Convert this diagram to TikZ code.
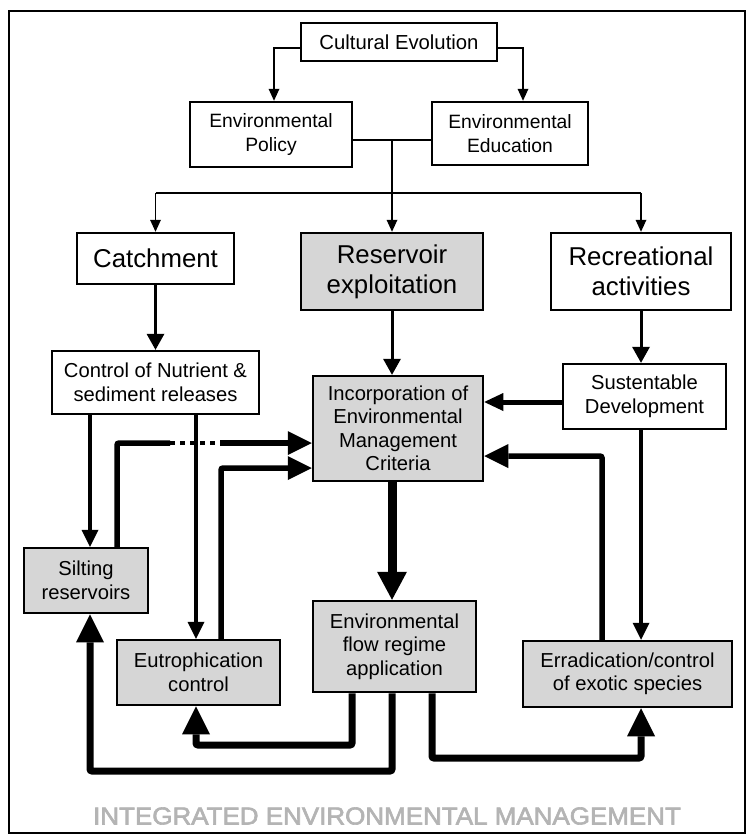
\documentclass[tikz,border=0pt]{standalone}
\usepackage{fontspec}
\setmainfont{Liberation Sans}
\newfontfamily\titlefont[FakeBold=2.5]{Liberation Sans}
\usetikzlibrary{arrows.meta,calc}
\definecolor{boxgray}{RGB}{214,214,214}
\definecolor{titlegray}{RGB}{180,180,180}
\newcommand{\fsN}{\fontsize{20.2}{23.5}\selectfont}
\newcommand{\fsH}{\fontsize{19.3}{23.5}\selectfont}
\newcommand{\fsB}{\fontsize{25.8}{30}\selectfont}
\begin{document}
\begin{tikzpicture}[x=1pt,y=-1pt,
  box/.style={draw, line width=2.5pt, inner sep=0pt, align=center, font=\fsN, fill=white},
  gbox/.style={box, fill=boxgray},
  tline/.style={line width=1.5pt},
  tarr/.style={line width=1.5pt, -{Triangle[width=11pt,length=12pt,line width=0pt]}},
  marr/.style={line width=3pt, -{Triangle[width=18pt,length=16pt,line width=0pt]}},
  narr/.style={line width=3.2pt, -{Triangle[width=17pt,length=17pt,line width=0pt]}},
  sarr/.style={line width=5pt, -{Triangle[width=18pt,length=19pt,line width=0pt]}},
  kline/.style={line width=5.5pt, rounded corners=2pt},
  karr/.style={kline, -{Triangle[width=24pt,length=24pt,line width=0pt]}},
  barr/.style={line width=7pt, rounded corners=2pt, -{Triangle[width=28pt,length=28pt,line width=0pt]}},
  harr/.style={line width=9pt, -{Triangle[width=30pt,length=28pt,line width=0pt]}}
]
\useasboundingbox (0,0) rectangle (748,835);
\draw[line width=2pt] (9,11) rectangle (745,833);

% nodes
\node[box, minimum width=196pt, minimum height=38pt, font=\fontsize{20.3}{24}\selectfont] (cult) at (399,42) {Cultural Evolution};
\node[box, minimum width=162pt, minimum height=65pt, font=\fsH] (pol) at (271,134.5) {Environmental\\Policy};
\node[box, minimum width=156pt, minimum height=63pt, font=\fsH] (edu) at (510,133.5) {Environmental\\Education};
\node[box, minimum width=157pt, minimum height=51pt, font=\fsB] (catch) at (155.5,258.5) {Catchment};
\node[gbox, minimum width=182pt, minimum height=77pt, font=\fsB] (res) at (392,271.5) {Reservoir\\exploitation};
\node[box, minimum width=180pt, minimum height=77pt, font=\fsB] (rec) at (641,271.5) {Recreational\\activities};
\node[box, minimum width=207pt, minimum height=63pt] (ctrl) at (155.5,382.5) {Control of Nutrient \&\\sediment releases};
\node[gbox, minimum width=170pt, minimum height=105pt] (inc) at (398,428.5) {Incorporation of\\Environmental\\Management\\Criteria};
\node[box, minimum width=163pt, minimum height=65pt] (sus) at (644.5,396.5) {Sustentable\\Development};
\node[gbox, minimum width=163pt, minimum height=91pt] (env) at (394.5,646.5) {Environmental\\flow regime\\application};
\node[gbox, minimum width=124pt, minimum height=65pt] (silt) at (86,580.5) {Silting\\reservoirs};
\node[gbox, minimum width=163pt, minimum height=65pt] (eut) at (198.5,672.5) {Eutrophication\\control};
\node[gbox, minimum width=209pt, minimum height=66pt] (erad) at (627.5,674) {Erradication/control\\of exotic species};

\node[font=\titlefont\fontsize{24.5}{28}\selectfont, text=titlegray, inner sep=0pt] (title) at (387,816) {\scalebox{1.06}[1]{INTEGRATED ENVIRONMENTAL MANAGEMENT}};

% helper coordinates
\coordinate (cL) at (274,48);
\coordinate (cR) at (523,48);
\coordinate (j) at (392,140);
\coordinate (bus) at (392,193);
\coordinate (xa) at (90,0);
\coordinate (xb) at (117,0);
\coordinate (xc) at (196,0);
\coordinate (xd) at (221,0);
\coordinate (xe) at (352,0);
\coordinate (xf) at (392,0);
\coordinate (xg) at (432,0);
\coordinate (xh) at (602,0);
\coordinate (xi) at (641,0);
\coordinate (ya) at (0,443);
\coordinate (yb) at (0,468);
\coordinate (yc) at (0,456);
\coordinate (yd) at (0,402);
\coordinate (ye) at (0,745);
\coordinate (yf) at (0,771);
\coordinate (yg) at (0,758);
\coordinate (dA) at (170,443);
\coordinate (dB) at (220,443);

% top connectors
\draw[tarr] (cult.west |- cL) -- (cL) -- (cL |- pol.north);
\draw[tarr] (cult.east |- cR) -- (cR) -- (cR |- edu.north);
\draw[tline] (pol.east |- j) -- (edu.west |- j);
\draw[tline] (bus -| catch.north) -- (bus -| rec.north);
\draw[tarr] (j) -- (j |- res.north);
\draw[tarr] (bus -| catch.north) -- (catch.north);
\draw[tarr] (bus -| rec.north) -- (rec.north);

% medium connectors
\draw[marr] (catch.south) -- (catch.south |- ctrl.north);
\draw[marr] (res.south) -- (res.south |- inc.north);
\draw[marr] (rec.south) -- (rec.south |- sus.north);
\draw[narr] (xa |- ctrl.south) -- (xa |- silt.north);
\draw[narr] (xc |- ctrl.south) -- (xc |- eut.north);
\draw[narr] (xi |- sus.south) -- (xi |- erad.north);
\draw[sarr] (sus.west |- yd) -- (inc.east |- yd);

% feedback loops to Incorporation
\draw[kline] (xb |- silt.north) |- (dA);
\draw[line width=4.5pt, dash pattern=on 5pt off 5pt] (dA) -- (dB);
\draw[karr] (dB) -- (inc.west |- ya);
\draw[karr] (xd |- eut.north) |- (inc.west |- yb);
\draw[karr] (xh |- erad.north) |- (inc.east |- yc);

% main flow
\draw[harr] (xf |- inc.south) -- (xf |- env.north);
\draw[barr] (xe |- env.south) -- (xe |- ye) -| (xc |- eut.south);
\draw[barr] (xf |- env.south) -- (xf |- yf) -| (xa |- silt.south);
\draw[barr] (xg |- env.south) -- (xg |- yg) -| (xi |- erad.south);
\end{tikzpicture}
\end{document}
